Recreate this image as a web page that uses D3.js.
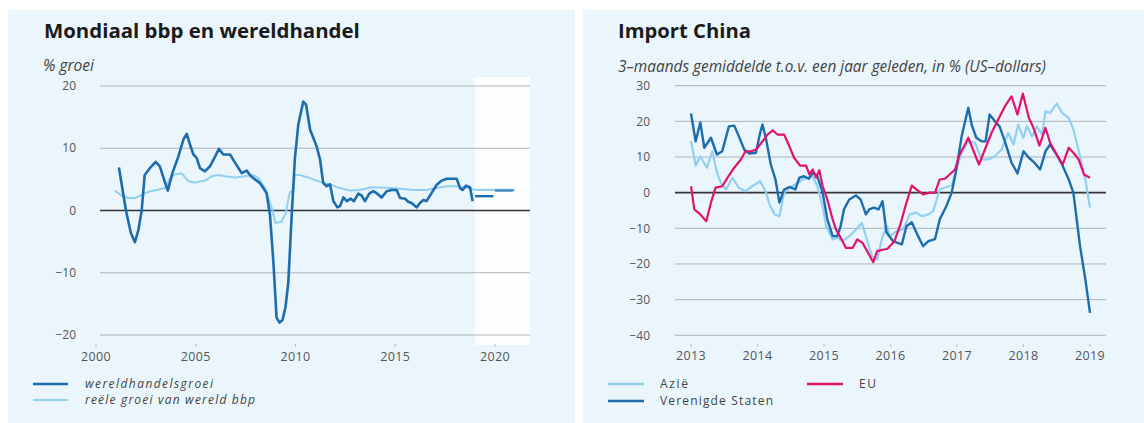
<!DOCTYPE html>
<html>
<head>
<meta charset="utf-8">
<script src="https://cdn.jsdelivr.net/npm/d3@7"></script>
<style>
  body { margin: 0; background: #ffffff; }
  svg { display: block; }
  text { font-family: "Open Sans", "DejaVu Sans", sans-serif; }
</style>
</head>
<body>
<svg id="chart" width="1144" height="423"></svg>
<script>
// ---------- DATA: left panel (Mondiaal bbp en wereldhandel) ----------
const leftYTicks = [20, 10, 0, -10, -20];
const leftXTicks = [2000, 2005, 2010, 2015, 2020];
const forecastStart = 2019;
// wereldhandelsgroei [year, % growth]
const tradeData = [
  [2001.15, 6.9], [2001.5, 0], [2001.75, -3.6], [2001.95, -5.1], [2002.12, -3.2], [2002.29, 0],
  [2002.44, 5.7], [2002.7, 6.8], [2002.99, 7.8], [2003.2, 7.1], [2003.46, 4.5], [2003.6, 3.2],
  [2003.83, 6.0], [2004.13, 8.7], [2004.38, 11.4], [2004.55, 12.3], [2004.71, 10.6], [2004.88, 9.0],
  [2005.05, 8.4], [2005.21, 6.8], [2005.46, 6.3], [2005.71, 7.1], [2005.93, 8.4], [2006.16, 9.9],
  [2006.38, 9.0], [2006.72, 9.0], [2006.93, 7.9], [2007.3, 6.0], [2007.55, 6.4], [2007.77, 5.5],
  [2007.97, 5.0], [2008.22, 4.4], [2008.55, 2.8], [2008.72, -0.7], [2008.89, -8.2], [2009.05, -17.2],
  [2009.2, -18.0], [2009.35, -17.6], [2009.5, -15.5], [2009.64, -11.5], [2009.81, -0.7], [2009.97, 8.4],
  [2010.14, 13.8], [2010.39, 17.5], [2010.53, 17.0], [2010.73, 13.0], [2011.06, 10.3], [2011.23, 8.2],
  [2011.39, 4.4], [2011.56, 3.9], [2011.73, 4.2], [2011.9, 1.5], [2012.1, 0.5], [2012.23, 0.7],
  [2012.4, 2.1], [2012.57, 1.5], [2012.77, 1.9], [2012.93, 1.5], [2013.15, 2.7], [2013.32, 2.4],
  [2013.48, 1.5], [2013.7, 2.7], [2013.9, 3.1], [2014.1, 2.7], [2014.32, 2.1], [2014.57, 3.1],
  [2014.82, 3.3], [2015.07, 3.3], [2015.24, 2.0], [2015.49, 1.9], [2015.65, 1.4], [2015.82, 1.2],
  [2016.07, 0.5], [2016.24, 1.2], [2016.41, 1.7], [2016.57, 1.5], [2016.82, 2.8], [2017.07, 4.1],
  [2017.33, 4.8], [2017.58, 5.1], [2017.91, 5.1], [2018.08, 5.1], [2018.25, 3.6], [2018.38, 3.3],
  [2018.55, 4.0], [2018.75, 3.7], [2018.88, 1.5]
];
// reële groei van wereld bbp [year, % growth]
const gdpData = [
  [2000.95, 3.2], [2001.29, 2.4], [2001.62, 2.0], [2001.95, 2.0], [2002.29, 2.5], [2002.62, 3.0],
  [2003.04, 3.3], [2003.46, 3.6], [2003.71, 5.2], [2003.96, 5.8], [2004.29, 6.0], [2004.63, 4.7],
  [2004.96, 4.5], [2005.46, 4.8], [2005.8, 5.5], [2006.13, 5.7], [2006.47, 5.5], [2006.97, 5.3],
  [2007.47, 5.5], [2007.89, 5.7], [2008.14, 5.2], [2008.47, 3.6], [2008.81, 0.4], [2009.0, -2.0],
  [2009.3, -1.8], [2009.5, -0.5], [2009.72, 3.0], [2009.89, 3.0], [2009.97, 5.7], [2010.22, 5.7],
  [2010.72, 5.2], [2011.23, 4.6], [2011.73, 4.2], [2012.23, 3.6], [2012.73, 3.2], [2013.23, 3.3],
  [2013.73, 3.7], [2014.24, 3.7], [2014.74, 3.6], [2015.24, 3.5], [2015.9, 3.3], [2016.57, 3.3],
  [2017.07, 3.6], [2017.58, 3.9], [2018.08, 3.9], [2018.58, 3.7], [2019.0, 3.3]
];
// forecast years (ramingen)
const forecastYears = [2019, 2020];
const tradeForecast = [2.3, 3.2];
const gdpForecast = [3.3, 3.3];

// ---------- DATA: right panel (Import China) ----------
const rightYTicks = [30, 20, 10, 0, -10, -20, -30, -40];
const rightXTicks = [2013, 2014, 2015, 2016, 2017, 2018, 2019];
const asiaData = [
  [2013.0, 14.4], [2013.07, 7.6], [2013.14, 10.2], [2013.24, 7.0], [2013.32, 11.6], [2013.39, 5.6],
  [2013.46, 2.3], [2013.53, 0.9], [2013.62, 4.2], [2013.72, 1.4], [2013.82, 0.4], [2013.92, 1.8],
  [2014.04, 3.2], [2014.13, 0], [2014.18, -3.3], [2014.26, -6.1], [2014.33, -6.6], [2014.4, 0],
  [2014.52, 1.8], [2014.68, 3.7], [2014.83, 4.6], [2014.9, 1.8], [2014.98, -3.8], [2015.03, -9.4],
  [2015.13, -13.1], [2015.2, -12.6], [2015.28, -13.6], [2015.38, -12.2], [2015.48, -10.3], [2015.57, -8.5],
  [2015.63, -12.2], [2015.72, -17.8], [2015.8, -18.7], [2015.88, -12.2], [2015.95, -9.4], [2015.99, -12.2],
  [2016.09, -10.8], [2016.19, -10.3], [2016.29, -6.1], [2016.39, -5.6], [2016.47, -6.6], [2016.57, -6.1],
  [2016.64, -5.2], [2016.74, 0.9], [2016.84, 1.6], [2016.92, 2.0], [2016.99, 6.5], [2017.07, 11.2],
  [2017.17, 14.4], [2017.27, 14.0], [2017.37, 9.3], [2017.47, 9.3], [2017.57, 10.2], [2017.67, 12.1],
  [2017.77, 16.8], [2017.85, 13.5], [2017.92, 19.1], [2018.0, 15.4], [2018.05, 18.7], [2018.13, 15.8],
  [2018.2, 18.6], [2018.28, 16.3], [2018.33, 22.8], [2018.4, 22.4], [2018.5, 25.0], [2018.58, 22.4],
  [2018.68, 21.0], [2018.75, 17.7], [2018.85, 10.2], [2018.93, 3.7], [2019.0, -4.2]
];
const euData = [
  [2013.0, 1.8], [2013.05, -4.7], [2013.14, -6.1], [2013.23, -8.0], [2013.3, -2.8], [2013.37, 1.4],
  [2013.47, 1.8], [2013.55, 4.2], [2013.65, 7.0], [2013.75, 9.3], [2013.82, 11.6], [2013.9, 11.6],
  [2013.98, 12.1], [2014.06, 14.0], [2014.15, 16.3], [2014.23, 17.5], [2014.3, 16.3], [2014.4, 16.3],
  [2014.48, 13.0], [2014.55, 9.8], [2014.64, 7.6], [2014.73, 7.6], [2014.78, 5.1], [2014.83, 6.5],
  [2014.88, 4.2], [2014.93, 6.3], [2014.98, 1.8], [2015.05, -1.9], [2015.13, -7.5], [2015.18, -10.3],
  [2015.25, -12.6], [2015.33, -15.5], [2015.43, -15.5], [2015.5, -13.1], [2015.58, -14.1], [2015.65, -16.4],
  [2015.74, -19.5], [2015.8, -16.4], [2015.88, -16.0], [2015.95, -15.8], [2016.06, -13.6], [2016.14, -9.4],
  [2016.24, -2.8], [2016.32, 2.0], [2016.39, 0.9], [2016.49, -0.5], [2016.59, 0], [2016.67, 0],
  [2016.74, 3.7], [2016.82, 3.9], [2016.89, 5.1], [2016.97, 6.5], [2017.04, 10.7], [2017.12, 13.5],
  [2017.17, 15.4], [2017.24, 12.1], [2017.33, 7.9], [2017.42, 12.1], [2017.52, 16.8], [2017.62, 20.5],
  [2017.72, 24.2], [2017.82, 27.0], [2017.91, 21.9], [2017.99, 27.8], [2018.08, 21.0], [2018.15, 18.2],
  [2018.24, 13.2], [2018.33, 18.2], [2018.4, 14.0], [2018.5, 10.7], [2018.59, 7.9], [2018.68, 12.6],
  [2018.75, 11.2], [2018.83, 9.3], [2018.91, 5.1], [2019.0, 4.2]
];
const usYears = [2013.0, 2013.07, 2013.14, 2013.2, 2013.3, 2013.39, 2013.47, 2013.57, 2013.65, 2013.72,
  2013.8, 2013.875, 2013.976, 2014.04, 2014.075, 2014.13, 2014.2, 2014.27, 2014.33, 2014.4, 2014.48,
  2014.57, 2014.63, 2014.7, 2014.77, 2014.83, 2014.9, 2014.98, 2015.05, 2015.13, 2015.2, 2015.25,
  2015.3, 2015.38, 2015.48, 2015.55, 2015.63, 2015.68, 2015.75, 2015.82, 2015.88, 2015.94, 2016.04,
  2016.17, 2016.24, 2016.32, 2016.39, 2016.49, 2016.57, 2016.67, 2016.74, 2016.84, 2016.92, 2016.99,
  2017.07, 2017.17, 2017.22, 2017.29, 2017.37, 2017.43, 2017.49, 2017.57, 2017.64, 2017.72, 2017.82,
  2017.91, 2018.0, 2018.08, 2018.16, 2018.25, 2018.33, 2018.4, 2018.48, 2018.58, 2018.68, 2018.75,
  2018.85, 2018.93, 2019.0];
const usValues = [22.2, 14.4, 19.7, 12.6, 15.4, 10.7, 11.6, 18.6, 18.8, 15.8,
  12.1, 11.0, 11.2, 16.8, 19.1, 14.9, 7.9, 3.7, -2.8, 0.9, 1.6,
  0.9, 4.2, 4.6, 3.9, 5.6, 4.6, 0, -7.5, -12.2, -12.2, -9.4,
  -4.7, -1.9, -0.8, -1.9, -6.1, -4.7, -4.2, -4.7, -2.4, -11.2, -13.6,
  -14.5, -9.4, -8.3, -11.2, -15.0, -13.6, -13.0, -7.5, -3.8, 0, 6.5,
  15.8, 23.8, 19.1, 15.4, 14.4, 14.4, 21.9, 20.0, 18.6, 14.4, 8.4,
  5.4, 11.6, 9.8, 8.5, 6.5, 11.6, 13.5, 11.2, 7.9, 3.7, 0,
  -15.0, -24.3, -33.7];
const usData = usYears.map((y, i) => [y, usValues[i]]);

// ---------- STYLE ----------
const C = {
  panel: "#eaf5fc",
  grid: "#aeb4b8",
  zero: "#333333",
  tick: "#555555",
  dark: "#1c6cae",
  light: "#92d0f1",
  pink: "#e0146e",
  title: "#1a1a1a"
};

const svg = d3.select("#chart");
svg.append("rect").attr("x", 8).attr("y", 10).attr("width", 567).attr("height", 413).attr("fill", C.panel);
svg.append("rect").attr("x", 583).attr("y", 10).attr("width", 561).attr("height", 413).attr("fill", C.panel);

function fitText(sel, width) {
  const node = sel.node();
  const w = node.getComputedTextLength();
  const fs = parseFloat(sel.attr("font-size"));
  if (w > 0) sel.attr("font-size", (fs * width / w).toFixed(2));
  return sel;
}

function addText(x, y, str, opts) {
  const t = svg.append("text").attr("x", x).attr("y", y).text(str)
    .attr("font-size", opts.size || 12)
    .attr("fill", opts.fill || "#333")
    .attr("font-weight", opts.weight || "normal")
    .attr("font-style", opts.style || "normal");
  if (opts.spacing) t.attr("letter-spacing", opts.spacing);
  if (opts.width) fitText(t, opts.width);
  if (opts.length) t.attr("textLength", opts.length).attr("lengthAdjust", "spacing");
  return t;
}

// ---------- LEFT PANEL ----------
const xL = d3.scaleLinear().domain([2000, 2020]).range([96, 495]);
const yL = d3.scaleLinear().domain([-20, 20]).range([335, 86]);
const gL = svg.append("g");

// forecast shading
gL.append("rect")
  .attr("x", xL(forecastStart)).attr("y", 77)
  .attr("width", 530 - xL(forecastStart)).attr("height", 345 - 77)
  .attr("fill", "#ffffff").attr("opacity", 0.85);

// gridlines
gL.selectAll(".grid").data(leftYTicks).join("line")
  .attr("x1", 100).attr("x2", 530)
  .attr("y1", d => yL(d)).attr("y2", d => yL(d))
  .attr("stroke", d => d === 0 ? C.zero : C.grid)
  .attr("stroke-width", d => d === 0 ? 1.6 : 1);

// y tick labels
gL.selectAll(".yl").data(leftYTicks).join("text")
  .attr("x", 76).attr("y", d => yL(d)).attr("dy", "0.35em")
  .attr("text-anchor", "end").attr("font-size", 12).attr("fill", C.tick)
  .text(d => d3.format("d")(d).replace("-", "\u2212"));

// x ticks + labels
gL.selectAll(".xt").data(leftXTicks).join("line")
  .attr("x1", d => xL(d)).attr("x2", d => xL(d)).attr("y1", 344).attr("y2", 347)
  .attr("stroke", "#b8bec2").attr("stroke-width", 1);
gL.selectAll(".xl").data(leftXTicks).join("text")
  .attr("x", d => xL(d)).attr("y", 361).attr("text-anchor", "middle")
  .attr("font-size", 12.5).attr("fill", C.tick).attr("letter-spacing", 0.4)
  .text(d => d);

const lineL = d3.line().x(d => xL(d[0])).y(d => yL(d[1])).curve(d3.curveLinear);
gL.append("path").datum(gdpData).attr("d", lineL)
  .attr("fill", "none").attr("stroke", C.light).attr("stroke-width", 2).attr("stroke-linejoin", "round");
gL.append("path").datum(tradeData).attr("d", lineL)
  .attr("fill", "none").attr("stroke", C.dark).attr("stroke-width", 2.6).attr("stroke-linejoin", "round");

// forecast segments
gL.append("path").datum([[forecastYears[0], gdpForecast[0]], [forecastYears[1] + 1, gdpForecast[1]]])
  .attr("d", lineL).attr("fill", "none").attr("stroke", C.light).attr("stroke-width", 2.2);
forecastYears.forEach((yr, i) => {
  gL.append("path").datum([[yr, tradeForecast[i]], [yr + 0.92, tradeForecast[i]]])
    .attr("d", lineL).attr("fill", "none").attr("stroke", C.dark)
    .attr("stroke-width", 2.4).attr("opacity", i === 1 ? 0.75 : 1);
});

// titles
addText(44, 38, "Mondiaal bbp en wereldhandel", { size: 16, weight: "bold", fill: C.title, width: 316 });
addText(43, 71, "% groei", { size: 12, style: "italic", fill: "#444", width: 51 });

// legend
const legL = [
  { label: "wereldhandelsgroei", color: C.dark, w: 2.6, y: 384, len: 128 },
  { label: "reële groei van wereld bbp", color: C.light, w: 2.2, y: 400, len: 170 }
];
legL.forEach(d => {
  svg.append("line").attr("x1", 33).attr("x2", 68).attr("y1", d.y).attr("y2", d.y)
    .attr("stroke", d.color).attr("stroke-width", d.w);
  addText(85, d.y + 4, d.label, { size: 12, style: "italic", fill: "#444", length: d.len });
});

// ---------- RIGHT PANEL ----------
const xR = d3.scaleLinear().domain([2013, 2019]).range([691, 1090]);
const yR = d3.scaleLinear().domain([-40, 30]).range([335.3, 85.7]);
const gR = svg.append("g");

gR.selectAll(".grid").data(rightYTicks).join("line")
  .attr("x1", 675).attr("x2", 1106)
  .attr("y1", d => yR(d)).attr("y2", d => yR(d))
  .attr("stroke", d => d === 0 ? C.zero : C.grid)
  .attr("stroke-width", d => d === 0 ? 1.6 : 1);

gR.selectAll(".yl").data(rightYTicks).join("text")
  .attr("x", 650).attr("y", d => yR(d)).attr("dy", "0.35em")
  .attr("text-anchor", "end").attr("font-size", 12).attr("fill", C.tick)
  .text(d => d3.format("d")(d).replace("-", "\u2212"));

gR.selectAll(".xt").data(rightXTicks).join("line")
  .attr("x1", d => xR(d)).attr("x2", d => xR(d)).attr("y1", 344).attr("y2", 347)
  .attr("stroke", "#b8bec2").attr("stroke-width", 1);
gR.selectAll(".xl").data(rightXTicks).join("text")
  .attr("x", d => xR(d)).attr("y", 360).attr("text-anchor", "middle")
  .attr("font-size", 12.5).attr("fill", C.tick).attr("letter-spacing", 0.4)
  .text(d => d);

const lineR = d3.line().x(d => xR(d[0])).y(d => yR(d[1]));
[[asiaData, C.light, 2.2], [usData, C.dark, 2.4], [euData, C.pink, 2.2]].forEach(([data, color, w]) => {
  gR.append("path").datum(data).attr("d", lineR)
    .attr("fill", "none").attr("stroke", color).attr("stroke-width", w)
    .attr("stroke-linejoin", "round");
});

addText(618, 38, "Import China", { size: 16, weight: "bold", fill: C.title, width: 133 });
addText(618, 72, "3\u2013maands gemiddelde t.o.v. een jaar geleden, in % (US\u2013dollars)",
  { size: 12, style: "italic", fill: "#444", width: 428 });

const legR = [
  { label: "Azië", color: C.light, x: 608, y: 384, len: 28 },
  { label: "Verenigde Staten", color: C.dark, x: 608, y: 401, len: 113 },
  { label: "EU", color: C.pink, x: 807, y: 384, len: 17 }
];
legR.forEach(d => {
  svg.append("line").attr("x1", d.x).attr("x2", d.x + 36).attr("y1", d.y).attr("y2", d.y)
    .attr("stroke", d.color).attr("stroke-width", 2.4);
  addText(d.x + 52, d.y + 4, d.label, { size: 12, fill: "#444", length: d.len });
});
</script>
</body>
</html>
